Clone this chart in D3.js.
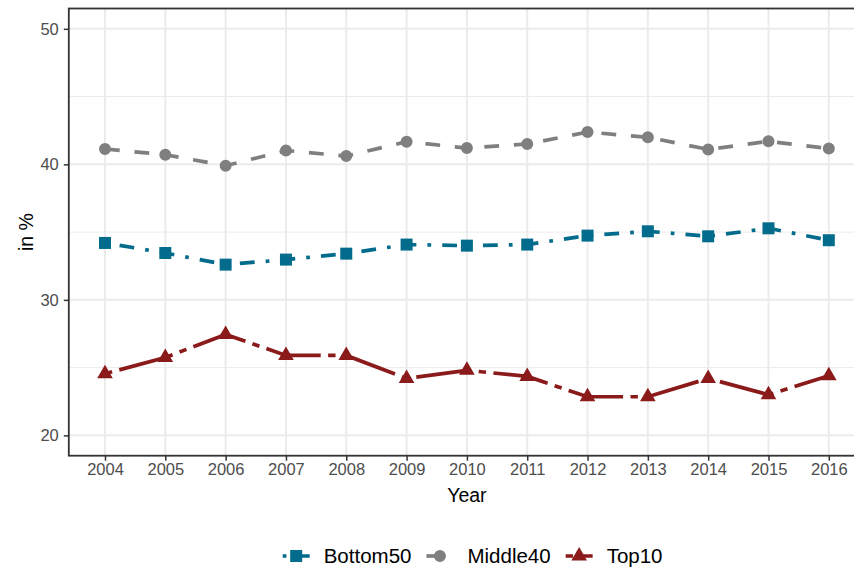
<!DOCTYPE html>
<html>
<head>
<meta charset="utf-8">
<script src="https://cdn.jsdelivr.net/npm/d3@7"></script>
<style>
  body { margin: 0; background: #fff; }
  svg { display: block; font-family: "Liberation Sans", Arial, Helvetica, sans-serif; }
</style>
</head>
<body>
<script>

// data
var years = [2004, 2005, 2006, 2007, 2008, 2009, 2010, 2011, 2012, 2013, 2014, 2015, 2016];
var bottom50 = [34.2, 33.46, 32.6, 32.97, 33.41, 34.08, 34.0, 34.08, 34.74, 35.06, 34.69, 35.28, 34.4];
var middle40 = [41.13, 40.71, 39.9, 41.02, 40.61, 41.67, 41.2, 41.5, 42.38, 42.0, 41.1, 41.7, 41.17];
var top10 = [24.55, 25.75, 27.45, 25.9, 25.9, 24.2, 24.8, 24.35, 22.85, 22.85, 24.2, 23.0, 24.4];
var seriesNames = ["Bottom50", "Middle40", "Top10"];
var yTicks = [20, 30, 40, 50];
var yMinor = [25, 35, 45];

var colors = {Bottom50: "#036B8B", Middle40: "#7F7F7F", Top10: "#8B1A1A"};
var u = 3.7; // line width, dash unit
var dashes = {
  Bottom50: [1, 3, 4, 3].map(function(d) { return d * u; }).join(","),
  Middle40: [4, 4].map(function(d) { return d * u; }).join(","),
  Top10: [2, 2, 15, 2].map(function(d) { return d * u; }).join(",")
};
var shapes = {Bottom50: d3.symbolSquare, Middle40: d3.symbolCircle, Top10: d3.symbolTriangle};
var sizes = {Bottom50: 144, Middle40: 113, Top10: 106};

var series = [
  {name: "Bottom50", values: bottom50},
  {name: "Middle40", values: middle40},
  {name: "Top10", values: top10}
];

var width = 854, height = 570;
var panel = {left: 68.8, right: 865, top: 8.5, bottom: 455.7};

var svg = d3.select("body").append("svg")
    .attr("width", width)
    .attr("height", height);

var xScale = d3.scalePoint()
    .domain(years)
    .range([panel.left, panel.right])
    .padding(0.6);

var yScale = d3.scaleLinear()
    .domain([18.5, 51.5])
    .range([panel.bottom, panel.top]);

// grid
svg.append("g").selectAll("line").data(yMinor).enter().append("line")
    .attr("x1", panel.left).attr("x2", panel.right)
    .attr("y1", function(d) { return yScale(d); })
    .attr("y2", function(d) { return yScale(d); })
    .attr("stroke", "#EBEBEB").attr("stroke-width", 1);

svg.append("g").selectAll("line").data(yTicks).enter().append("line")
    .attr("x1", panel.left).attr("x2", panel.right)
    .attr("y1", function(d) { return yScale(d); })
    .attr("y2", function(d) { return yScale(d); })
    .attr("stroke", "#EBEBEB").attr("stroke-width", 2);

svg.append("g").selectAll("line").data(years).enter().append("line")
    .attr("y1", panel.top).attr("y2", panel.bottom)
    .attr("x1", function(d) { return xScale(d); })
    .attr("x2", function(d) { return xScale(d); })
    .attr("stroke", "#EBEBEB").attr("stroke-width", 2);

// lines and points
var line = d3.line()
    .x(function(d, i) { return xScale(years[i]); })
    .y(function(d) { return yScale(d); });

series.forEach(function(s) {
  svg.append("path")
      .datum(s.values)
      .attr("d", line)
      .attr("fill", "none")
      .attr("stroke", colors[s.name])
      .attr("stroke-width", u)
      .attr("stroke-dasharray", dashes[s.name])
      .attr("stroke-linecap", "butt");

  svg.append("g").selectAll("path").data(s.values).enter().append("path")
      .attr("d", d3.symbol().type(shapes[s.name]).size(sizes[s.name]))
      .attr("transform", function(d, i) { return "translate(" + xScale(years[i]) + "," + yScale(d) + ")"; })
      .attr("fill", colors[s.name]);
});

// panel border
svg.append("rect")
    .attr("x", panel.left).attr("y", panel.top)
    .attr("width", panel.right - panel.left)
    .attr("height", panel.bottom - panel.top)
    .attr("fill", "none")
    .attr("stroke", "#333333")
    .attr("stroke-width", 1.8);

// x axis
var xAxis = svg.append("g")
    .attr("transform", "translate(0," + panel.bottom + ")")
    .call(d3.axisBottom(xScale).tickSize(5).tickPadding(3));
xAxis.select(".domain").remove();
xAxis.selectAll(".tick line").attr("stroke", "#333333").attr("stroke-width", 1.5);
xAxis.selectAll(".tick text")
    .attr("fill", "#4D4D4D")
    .style("font-size", "16.5px")
    .attr("font-family", null);

// y axis
var yAxis = svg.append("g")
    .attr("transform", "translate(" + panel.left + ",0)")
    .call(d3.axisLeft(yScale).tickValues(yTicks).tickSize(5).tickPadding(5));
yAxis.select(".domain").remove();
yAxis.selectAll(".tick line").attr("stroke", "#333333").attr("stroke-width", 1.5);
yAxis.selectAll(".tick text")
    .attr("fill", "#4D4D4D")
    .style("font-size", "16.5px")
    .attr("font-family", null);

// axis titles
svg.append("text")
    .attr("x", (panel.left + panel.right) / 2)
    .attr("y", 502)
    .attr("text-anchor", "middle")
    .style("font-size", "19.5px")
    .text("Year");

svg.append("text")
    .attr("transform", "translate(33," + ((panel.top + panel.bottom) / 2) + ") rotate(-90)")
    .attr("text-anchor", "middle")
    .style("font-size", "19.5px")
    .text("in %");

// legend
var keyW = 27, legendY = 556, lx = 282.7;
seriesNames.forEach(function(name) {
  var g = svg.append("g").attr("transform", "translate(" + lx + "," + legendY + ")");
  g.append("line")
      .attr("x1", 0).attr("x2", keyW)
      .attr("stroke", colors[name])
      .attr("stroke-width", u)
      .attr("stroke-dasharray", dashes[name]);
  g.append("path")
      .attr("d", d3.symbol().type(shapes[name]).size(sizes[name]))
      .attr("transform", "translate(" + (keyW / 2) + ",0)")
      .attr("fill", colors[name]);
  var t = g.append("text")
      .attr("x", keyW + 14)
      .attr("y", 7)
      .style("font-size", "20.5px")
      .text(name);
  lx += keyW + 14 + t.node().getComputedTextLength() + 15;
});

</script>
</body>
</html>
